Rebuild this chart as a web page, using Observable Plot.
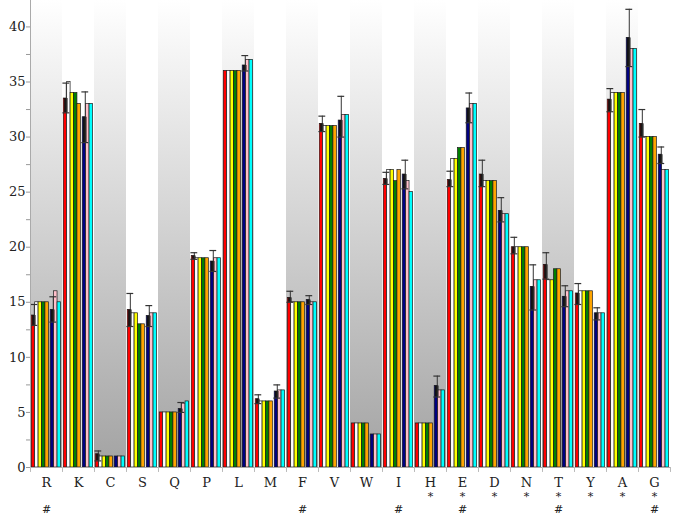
<!DOCTYPE html>
<html>
<head>
<meta charset="utf-8">
<script src="https://cdn.jsdelivr.net/npm/d3@7"></script>
<script src="https://cdn.jsdelivr.net/npm/@observablehq/plot@0.6"></script>
<style>
  html, body { margin: 0; padding: 0; background: #ffffff; }
  svg text { font-family: "DejaVu Serif" !important; }
</style>
</head>
<body>
<div id="chart"></div>
<script>
// ---- data ----
const categories = ["R","K","C","S","Q","P","L","M","F","V","W","I","H","E","D","N","T","Y","A","G"];

// group 1 (five bars)
const red    = [13.8, 33.5, 1.2, 14.3, 5.0, 19.2, 36.0, 6.2, 15.4, 31.2, 4.0, 26.2, 4.0, 26.1, 26.6, 20.0, 18.4, 15.8, 33.4, 31.2];
const redLo  = [12.9, 32.2, 0.6, 12.8, 5.0, 18.9, 36.0, 5.8, 15.0, 30.5, 4.0, 25.7, 4.0, 25.5, 25.5, 19.4, 17.1, 14.8, 32.3, 30.0];
const redHi  = [14.8, 34.9, 1.5, 15.8, 5.0, 19.5, 36.0, 6.6, 16.0, 31.9, 4.0, 26.8, 4.0, 26.9, 27.9, 20.9, 19.5, 16.7, 34.4, 32.5];
const white  = [15, 35, 1, 14, 5, 19, 36, 6, 15, 31, 4, 27, 4, 28, 26, 20, 17, 16, 34, 30];
const yellow = [15, 34, 1, 14, 5, 19, 36, 6, 15, 31, 4, 27, 4, 28, 26, 20, 17, 16, 34, 30];
const green  = [15, 34, 1, 13, 5, 19, 36, 6, 15, 31, 4, 26, 4, 29, 26, 20, 18, 16, 34, 30];
const orange = [15, 33, 1, 13, 5, 19, 36, 6, 15, 31, 4, 27, 4, 29, 26, 20, 18, 16, 34, 30];

// group 2 (three bars)
const navy   = [14.3, 31.8, 1.0, 13.75, 5.3, 18.7, 36.5, 6.9, 15.2, 31.5, 3.0, 26.6, 7.4, 32.6, 23.3, 16.4, 15.5, 14.0, 39.0, 28.4];
const navyLo = [13.2, 29.5, 1.0, 12.8, 5.0, 17.8, 36.0, 6.3, 14.8, 30.0, 3.0, 25.3, 6.4, 31.3, 22.3, 14.3, 14.6, 13.4, 36.4, 27.6];
const navyHi = [15.5, 34.1, 1.0, 14.7, 5.9, 19.7, 37.4, 7.5, 15.6, 33.7, 3.0, 27.9, 8.3, 34.0, 24.5, 18.4, 16.5, 14.5, 41.6, 29.1];
const pink   = [16, 33, 1, 14, 5.8, 19, 37, 7, 15, 32, 3, 26, 7, 33, 23, 17, 16, 14, 38, 27];
const cyan   = [15, 33, 1, 14, 6, 19, 37, 7, 15, 32, 3, 25, 7, 33, 23, 17, 16, 14, 38, 27];

// significance markers
const starCats = ["H","E","D","N","T","Y","A","G"];
const hashCats = ["R","F","I","E","T","G"];

// y ticks
const majorTicks = [0, 5, 10, 15, 20, 25, 30, 35, 40];
const minorTicks = [2.5, 7.5, 12.5, 17.5, 22.5, 27.5, 32.5, 37.5, 42.5];

// ---- styling / layout ----
const seriesNames  = ["red","white","yellow","green","orange","navy","pink","cyan"];
const seriesColors = ["#c0282e","#fdfdf8","#d9d64e","#6c9f3a","#d2652b","#2e3784","#d890bf","#4cb0d8"];
const seriesValues = [red, white, yellow, green, orange, navy, pink, cyan];
const groupGap = 0.55;
const xMin = -0.37, xMax = 9.0, yMax = 42.4;
const slotOf = k => (k < 5 ? k : k + groupGap);

const bars = [];
categories.forEach((cat, i) => {
  seriesNames.forEach((s, k) => {
    bars.push({cat, series: s, x1: slotOf(k), x2: slotOf(k) + 1, value: seriesValues[k][i]});
  });
});

const errs = [];
categories.forEach((cat, i) => {
  errs.push({cat, c: slotOf(0) + 0.75, mean: red[i], lo: redLo[i], hi: redHi[i]});
  errs.push({cat, c: slotOf(5) + 0.75, mean: navy[i], lo: navyLo[i], hi: navyHi[i]});
});
const errShown = errs.filter(d => d.hi > d.lo);

const bandCats = categories.filter((d, i) => i % 2 === 0);

const font = "DejaVu Serif";

const plot = Plot.plot({
  width: 680,
  height: 516,
  marginTop: 0,
  marginBottom: 49,
  marginLeft: 22,
  marginRight: 2,
  style: {fontSize: "13px", background: "#ffffff", color: "#222"},
  fx: {domain: categories, padding: 0, axis: null},
  x: {domain: [xMin, xMax], axis: null},
  y: {domain: [0, yMax]},
  color: {domain: seriesNames, range: seriesColors},
  marks: [
    Plot.rect(bandCats, {fx: d => d, x1: xMin, x2: xMax, y1: 0, y2: yMax, fill: "url(#bandGrad)"}),
    Plot.rect(bars, {fx: "cat", x1: "x1", x2: "x2", y1: 0, y2: "value", fill: "series", stroke: "#1a1a1a", strokeWidth: 0.7}),
    Plot.rect(errShown, {fx: "cat", x1: d => d.c - 0.5, x2: d => d.c + 0.5, y1: "lo", y2: "mean", fill: "#111"}),
    Plot.ruleX(errShown, {fx: "cat", x: "c", y1: "lo", y2: "hi", stroke: "#333", strokeWidth: 1}),
    Plot.ruleY(errShown, {fx: "cat", y: "hi", x1: d => d.c - 1, x2: d => d.c + 1, stroke: "#333", strokeWidth: 1.2}),
    Plot.ruleY(errShown, {fx: "cat", y: "lo", x1: d => d.c - 1, x2: d => d.c + 1, stroke: "#333", strokeWidth: 1.2}),
    Plot.ruleY([0], {stroke: "#aaaaaa"}),
    Plot.ruleX([categories[0]], {fx: d => d, x: xMin, y1: 0, y2: yMax, stroke: "#aaaaaa"}),
    Plot.ruleX(categories, {fx: d => d, x: xMin, y1: 0, y2: -0.45, stroke: "#bbbbbb"}),
    Plot.ruleX([categories[categories.length - 1]], {fx: d => d, x: xMax, y1: 0, y2: -0.45, stroke: "#bbbbbb"}),
    Plot.axisY(minorTicks, {tickSize: 4, tickFormat: () => "", stroke: "#999"}),
    Plot.axisY(majorTicks, {tickSize: 4, tickPadding: 1, stroke: "#999", fill: "#222", fontSize: 13, fontFamily: font}),
    Plot.text(categories, {fx: d => d, text: d => d, frameAnchor: "bottom", lineAnchor: "top", dy: 10, fontSize: 13, fontFamily: font, fill: "#222"}),
    Plot.text(starCats, {fx: d => d, text: () => "*", frameAnchor: "bottom", lineAnchor: "top", dy: 25, fontSize: 11, fontFamily: font, fill: "#222"}),
    Plot.text(hashCats, {fx: d => d, text: () => "#", frameAnchor: "bottom", lineAnchor: "top", dy: 38, fontSize: 11, fontFamily: font, fill: "#222"})
  ]
});

const svgNode = plot.tagName.toLowerCase() === "svg" ? plot : plot.querySelector("svg");
svgNode.setAttribute("font-family", "DejaVu Serif");
const defs = d3.select(svgNode).insert("defs", ":first-child");
const grad = defs.append("linearGradient")
  .attr("id", "bandGrad").attr("x1", 0).attr("y1", 0).attr("x2", 0).attr("y2", 1);
grad.append("stop").attr("offset", "0%").attr("stop-color", "#ffffff");
grad.append("stop").attr("offset", "100%").attr("stop-color", "#a3a3a3");

document.getElementById("chart").appendChild(plot);
</script>
</body>
</html>
